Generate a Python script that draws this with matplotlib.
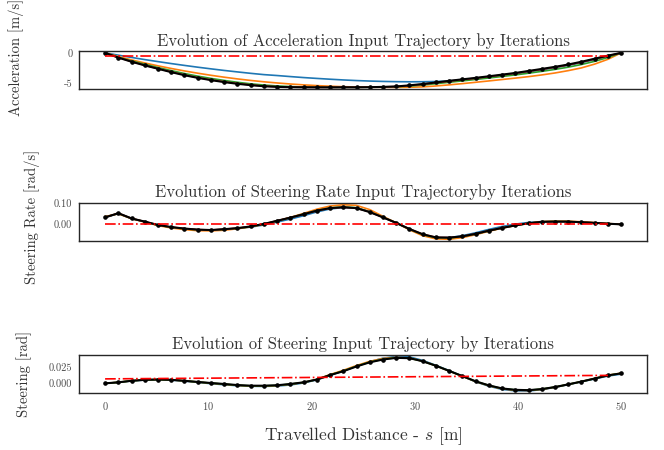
import matplotlib
matplotlib.use("Agg")
import matplotlib.pyplot as plt
import numpy as np

plt.rcParams.update({
    "font.family": "serif",
    "font.serif": ["cmr10"],
    "mathtext.fontset": "cm",
    "axes.formatter.use_mathtext": True,
    "text.color": "0.2",
    "axes.labelcolor": "0.2",
    "xtick.color": "0.3",
    "ytick.color": "0.3",
    "xtick.major.size": 0,
    "ytick.major.size": 0,
})

# travelled distance samples (40 nodes over 0..50 m)
s = np.linspace(0, 50, 40)
s_init = [0, 48.72]

# acceleration [m/s] per iteration
acc_init = [-0.48, -0.48]
acc_it1 = [0, -0.38, -0.75, -1.1, -1.43, -1.75, -2.05, -2.34, -2.61, -2.87,
           -3.11, -3.34, -3.55, -3.7, -3.87, -4.03, -4.17, -4.3, -4.42, -4.52,
           -4.6, -4.66, -4.7, -4.72, -4.71, -4.67, -4.58, -4.43, -4.22, -3.97,
           -3.7, -3.42, -3.1, -2.77, -2.42, -2.04, -1.6, -1.1, -0.56, 0]
acc_it2 = [0, -0.6, -1.15, -1.65, -2.12, -2.55, -2.95, -3.32, -3.66, -3.97,
           -4.25, -4.5, -4.72, -4.91, -5.08, -5.22, -5.34, -5.44, -5.52, -5.57,
           -5.6, -5.62, -5.63, -5.61, -5.55, -5.4, -5.22, -5.02, -4.8, -4.58,
           -4.35, -4.12, -3.88, -3.6, -3.28, -2.9, -2.45, -1.83, -1.05, 0]
acc_it3 = [0, -0.72, -1.3, -1.85, -2.4, -2.9, -3.37, -3.8, -4.17, -4.5,
           -4.8, -5.05, -5.25, -5.4, -5.5, -5.57, -5.6, -5.62, -5.62, -5.62,
           -5.6, -5.57, -5.52, -5.42, -5.25, -5.03, -4.8, -4.57, -4.34, -4.1,
           -3.85, -3.6, -3.32, -3.02, -2.7, -2.33, -1.9, -1.38, -0.75, 0]
acc_it4 = [0, -0.76, -1.42, -2.02, -2.57, -3.1, -3.6, -4.03, -4.4, -4.72,
           -5.0, -5.23, -5.42, -5.53, -5.59, -5.62, -5.63, -5.63, -5.62, -5.62,
           -5.6, -5.56, -5.5, -5.34, -5.13, -4.88, -4.62, -4.38, -4.14, -3.88,
           -3.61, -3.34, -3.02, -2.69, -2.35, -1.97, -1.52, -1.02, -0.5, 0]
acc_final = [0, -0.78, -1.45, -2.05, -2.6, -3.15, -3.65, -4.08, -4.45, -4.77,
             -5.05, -5.27, -5.45, -5.55, -5.6, -5.62, -5.63, -5.63, -5.62, -5.62,
             -5.6, -5.55, -5.48, -5.3, -5.08, -4.83, -4.56, -4.32, -4.08, -3.82,
             -3.55, -3.28, -2.95, -2.62, -2.28, -1.9, -1.45, -0.95, -0.45, 0]

# steering rate [rad/s] per iteration
dd_init = [0.0, 0.0]
dd_it1 = [0.033, 0.051, 0.027, 0.012, -0.004, -0.014, -0.022, -0.026, -0.027, -0.024,
          -0.02, -0.013, -0.003, 0.011, 0.025, 0.041, 0.059, 0.073, 0.08, 0.077,
          0.06, 0.034, 0.006, -0.024, -0.05, -0.064, -0.063, -0.054, -0.04, -0.024,
          -0.01, 0.001, 0.009, 0.013, 0.013, 0.012, 0.01, 0.007, 0.003, 0.0]
dd_it2 = [0.037, 0.05, 0.027, 0.011, -0.006, -0.017, -0.025, -0.03, -0.031, -0.028,
          -0.021, -0.012, 0.0, 0.016, 0.033, 0.052, 0.072, 0.087, 0.093, 0.09,
          0.07, 0.038, 0.007, -0.026, -0.054, -0.069, -0.071, -0.063, -0.049, -0.033,
          -0.018, -0.006, 0.005, 0.013, 0.015, 0.015, 0.012, 0.008, 0.004, 0.0]
dd_it3 = [0.034, 0.052, 0.028, 0.012, -0.004, -0.014, -0.021, -0.026, -0.028, -0.024,
          -0.019, -0.011, 0.001, 0.016, 0.032, 0.049, 0.066, 0.078, 0.083, 0.079,
          0.06, 0.034, 0.007, -0.023, -0.049, -0.064, -0.065, -0.058, -0.046, -0.031,
          -0.017, -0.005, 0.005, 0.012, 0.014, 0.013, 0.01, 0.007, 0.003, 0.0]
dd_it4 = [0.033, 0.053, 0.028, 0.013, -0.003, -0.013, -0.02, -0.025, -0.027, -0.023,
          -0.018, -0.01, 0.002, 0.017, 0.032, 0.048, 0.065, 0.077, 0.081, 0.077,
          0.059, 0.033, 0.007, -0.022, -0.047, -0.062, -0.063, -0.057, -0.045, -0.03,
          -0.017, -0.005, 0.005, 0.012, 0.013, 0.013, 0.01, 0.007, 0.003, 0.0]
dd_final = [0.033, 0.053, 0.028, 0.013, -0.003, -0.013, -0.02, -0.025, -0.027, -0.023,
            -0.018, -0.01, 0.002, 0.017, 0.032, 0.048, 0.065, 0.077, 0.081, 0.077,
            0.058, 0.033, 0.007, -0.022, -0.047, -0.062, -0.063, -0.057, -0.045, -0.03,
            -0.017, -0.005, 0.005, 0.012, 0.013, 0.013, 0.01, 0.007, 0.003, 0.0]

# steering [rad] per iteration
st_init = [0.007, 0.0125]
st_it1 = [0.0, 0.0015, 0.0038, 0.0052, 0.0056, 0.005, 0.0035, 0.0015, -0.0005, -0.0022,
          -0.0037, -0.0046, -0.0048, -0.0042, -0.0025, 0.0006, 0.0055, 0.0125, 0.0195, 0.027,
          0.034, 0.0395, 0.0422, 0.0415, 0.036, 0.0283, 0.02, 0.0112, 0.0025, -0.0045,
          -0.0095, -0.0118, -0.012, -0.0098, -0.0063, -0.002, 0.0025, 0.007, 0.0115, 0.0145]
st_it2 = [0.0, 0.0016, 0.0041, 0.0056, 0.006, 0.0054, 0.0039, 0.002, 0.0002, -0.0015,
          -0.0032, -0.0043, -0.0044, -0.0036, -0.0015, 0.0014, 0.0062, 0.0138, 0.0205, 0.028,
          0.0345, 0.039, 0.0408, 0.0398, 0.0348, 0.0276, 0.0193, 0.011, 0.0028, -0.0037,
          -0.0086, -0.0108, -0.0112, -0.0094, -0.006, -0.0017, 0.0028, 0.0078, 0.0128, 0.016]
st_it3 = [0.0, 0.0016, 0.004, 0.0055, 0.006, 0.0055, 0.004, 0.0021, 0.0004, -0.0012,
          -0.0029, -0.0039, -0.0039, -0.0032, -0.0012, 0.0015, 0.006, 0.0132, 0.0195, 0.027,
          0.0334, 0.0378, 0.0402, 0.0396, 0.0347, 0.0276, 0.0195, 0.0113, 0.0031, -0.0033,
          -0.0081, -0.0103, -0.0108, -0.009, -0.0058, -0.0016, 0.0028, 0.0076, 0.0126, 0.0157]
st_final = [0.0, 0.0016, 0.004, 0.0055, 0.006, 0.0055, 0.004, 0.0022, 0.0005, -0.001,
            -0.0027, -0.0037, -0.0037, -0.003, -0.001, 0.0016, 0.006, 0.013, 0.019, 0.0265,
            0.033, 0.0374, 0.04, 0.0395, 0.0347, 0.0276, 0.0195, 0.0114, 0.0032, -0.0032,
            -0.008, -0.0102, -0.0107, -0.009, -0.0058, -0.0016, 0.0028, 0.0076, 0.0125, 0.0157]

panels = [
    ("Evolution of Acceleration Input Trajectory by Iterations",
     "Acceleration [m/s]", acc_init, [acc_it1, acc_it2, acc_it3, acc_it4], acc_final),
    ("Evolution of Steering Rate Input Trajectoryby Iterations",
     "Steering Rate [rad/s]", dd_init, [dd_it1, dd_it2, dd_it3, dd_it4], dd_final),
    ("Evolution of Steering Input Trajectory by Iterations",
     "Steering [rad]", st_init, [st_it1, st_it2, st_it3], st_final),
]
bottoms = [0.802, 0.4644, 0.1273]
label_xy = [(-0.097, 0.84), (-0.07, 0.63), (-0.083, 0.5)]
yticks = [[-5, 0], [0.0, 0.1], [0.0, 0.025]]
yfmt = ["%d", "%.2f", "%.3f"]

fig = plt.figure(figsize=(6.64, 4.5), dpi=100)
for k, (title, ylabel, init, iters, final) in enumerate(panels):
    ax = fig.add_axes([0.1194, bottoms[k], 0.855, 0.0844])
    for j, it in enumerate(iters):
        ax.plot(s, it, color=f"C{j}", lw=1.2)
    ax.plot(s, final, color="black", lw=1.5, marker="o", ms=2.3)
    ax.plot(s_init, init, color="red", lw=1.2, ls="-.")
    ax.set_title(title, fontsize=12, pad=4)
    ax.set_ylabel(ylabel, fontsize=10.5)
    ax.yaxis.set_label_coords(*label_xy[k])
    ax.set_yticks(yticks[k])
    ax.yaxis.set_major_formatter(matplotlib.ticker.FormatStrFormatter(yfmt[k]))
    ax.tick_params(labelsize=7.5, pad=5)
    for sp in ax.spines.values():
        sp.set_color("0.15")
        sp.set_linewidth(1.0)
    if k < 2:
        ax.set_xticks([])
    else:
        ax.set_xticks([0, 10, 20, 30, 40, 50])
        ax.set_xlabel(r"Travelled Distance - $s$ [m]", fontsize=12.5, labelpad=10)

fig.savefig("out.png", dpi=100)
